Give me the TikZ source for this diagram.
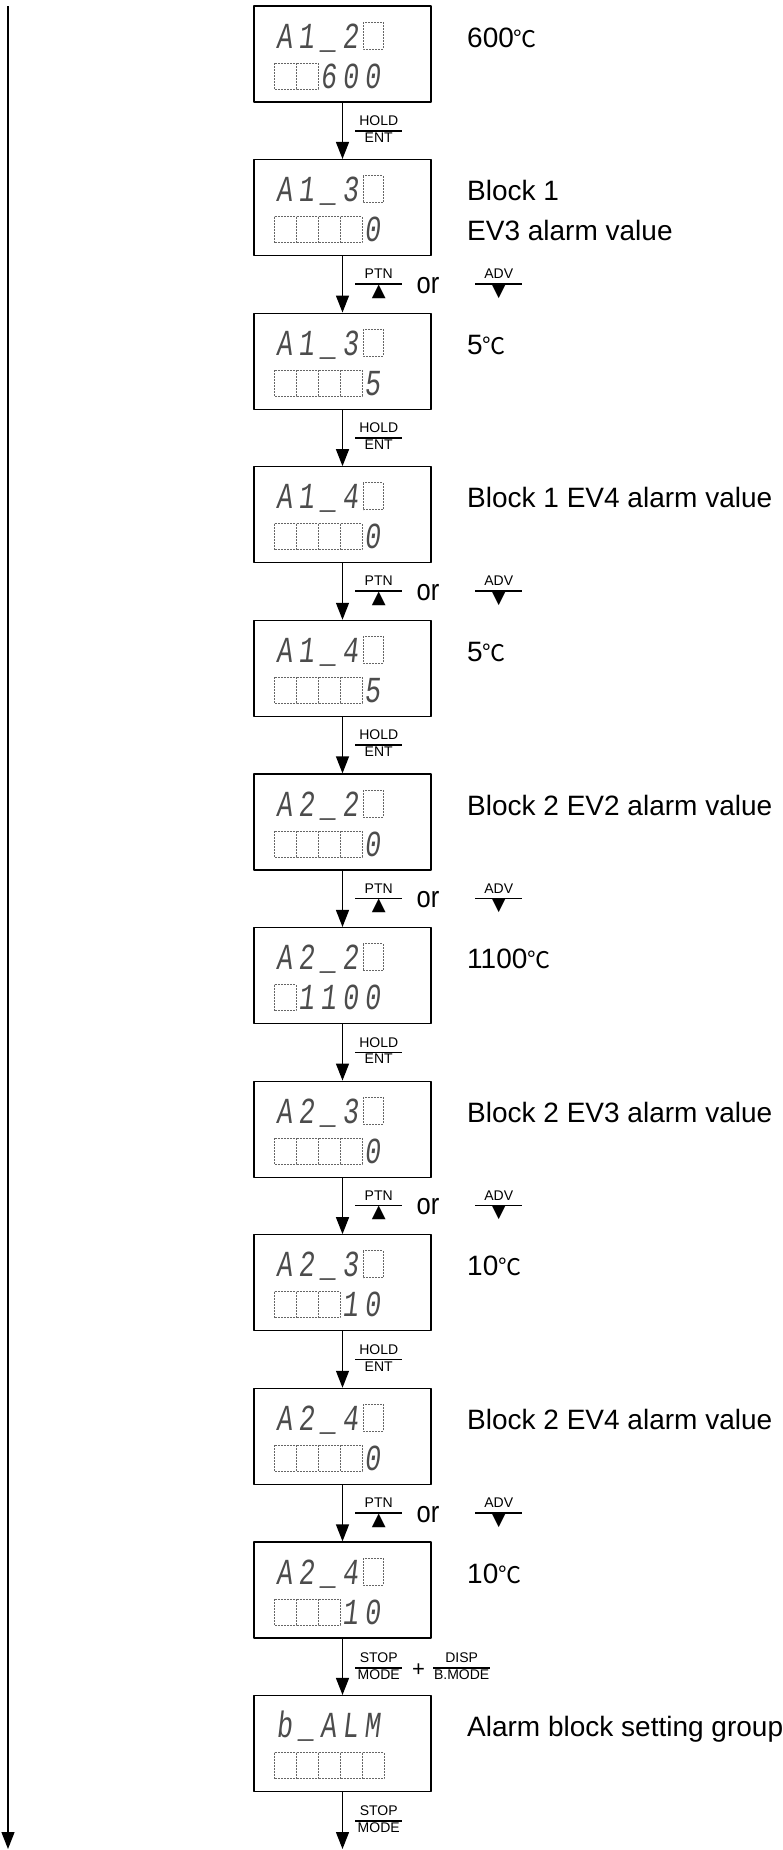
\documentclass[tikz,border=0pt]{standalone}
\usepackage{fontspec}
\usepackage{array}
\setmainfont{Liberation Sans}
\newfontfamily\segfont[FakeSlant=0.12,FakeStretch=0.72,LetterSpace=16.6]{Liberation Mono}
\newfontfamily\symfont{DejaVu Sans}
\newfontfamily\jpfont{Noto Sans CJK JP}
\usetikzlibrary{arrows.meta}
\newcommand{\degC}{{\jpfont\fontsize{23}{28}\selectfont ℃}}
\newcommand{\keyup}{{\symfont\fontsize{18}{17}\selectfont ▲}}
\newcommand{\keydown}{{\symfont\fontsize{18}{17}\selectfont ▼}}
\newcommand{\keyfrac}[3][47pt]{{\fontsize{14}{16}\selectfont\setlength{\arrayrulewidth}{1.5pt}%
  \renewcommand{\arraystretch}{0.95}%
  \begin{tabular}{@{}>{\centering\arraybackslash}p{#1}@{}}#2\\\hline #3\end{tabular}}}
\newcommand{\ortext}{\scalebox{0.85}[1]{\fontsize{30}{36}\selectfont or}}

\begin{document}
\begin{tikzpicture}[x=1pt,y=-1pt,line join=round,
  disp/.style={draw,line width=1.3pt,minimum width=177pt,minimum height=96pt,inner sep=0pt},
  flow/.style={line width=1.3pt,-{Triangle[length=17pt,width=13pt]}},
  cell/.style={draw=black!60,line width=0.8pt,dash pattern=on 2pt off 1pt},
  seg/.style={inner sep=0pt,anchor=base west,text=black!70,font=\segfont\fontsize{36.7}{40}\selectfont},
  lbl/.style={inner sep=0pt,anchor=base west,font=\fontsize{28}{34}\selectfont},
  key/.style={inner sep=0pt,anchor=west}]
\useasboundingbox (0,0) rectangle (782,1850);
% display boxes
\foreach \i/\top/\n/\val/\lab in {1/A1\_2/2/600/{600\degC},2/A1\_3/4/0/{Block 1},
    3/A1\_3/4/5/{5\degC},4/A1\_4/4/0/{Block 1 EV4 alarm value},5/A1\_4/4/5/{5\degC},
    6/A2\_2/4/0/{Block 2 EV2 alarm value},7/A2\_2/1/1100/{1100\degC},
    8/A2\_3/4/0/{Block 2 EV3 alarm value},9/A2\_3/3/10/{10\degC},
    10/A2\_4/4/0/{Block 2 EV4 alarm value},11/A2\_4/3/10/{10\degC}}{
  \pgfmathsetmacro\t{6+153.6*(\i-1)}
  \node[disp] (d\i) at (342.5,{\t+48}) {};
  \draw[cell] (363,{\t+16}) rectangle (383,{\t+43});
  \foreach \k in {1,...,\n}
    \draw[cell] ({274+22*(\k-1)},{\t+57}) rectangle ({296+22*(\k-1)},{\t+83});
  \node[seg] (top\i) at (276,{\t+42}) {\top};
  \node[seg] (val\i) at ({276+22*\n},{\t+82}) {\val};
  \node[lbl] (lab\i) at (467,{\t+41}) {\lab};
}
\node[lbl] (lab2b) at (467,{159.6+81}) {EV3 alarm value};
% last box
\node[disp] (d12) at (342.5,1743.6) {};
\foreach \k in {1,...,5}
  \draw[cell] ({274+22*(\k-1)},{1695.6+57}) rectangle ({296+22*(\k-1)},{1695.6+83});
\node[seg] (top12) at (276,{1695.6+42}) {b\_ALM};
\node[lbl] (lab12) at (467,{1695.6+41}) {Alarm block setting group};
% connectors
\foreach \i [evaluate=\i as \j using int(\i+1)] in {1,...,11}
  \draw[flow] (d\i) -- (d\j);
\coordinate (fin) at (342.5,1849);
\draw[flow] (d12) -- (fin);
\coordinate (lt) at (8,6);
\coordinate (lb) at (8,1849);
\draw[flow] (lt) -- (lb);
% key labels
\foreach \i in {1,3,5,7,9}
  \node[key] (hold\i) at (355,{6+153.6*(\i-1)+124.8}) {\keyfrac{HOLD}{ENT}};
\foreach \i in {2,4,6,8,10}{
  \node[key] (ptn\i) at (355,{6+153.6*(\i-1)+124.8}) {\keyfrac{PTN}{\keyup}};
  \node[inner sep=0pt] (or\i) at (428,{6+153.6*(\i-1)+125.8}) {\ortext};
  \node[key] (adv\i) at (475,{6+153.6*(\i-1)+124.8}) {\keyfrac{ADV}{\keydown}};
}
\node[key] (stop11) at (355,1668) {\keyfrac{STOP}{MODE}};
\node[inner sep=0pt,font=\fontsize{22}{26}\selectfont] (plus11) at (418.5,1670) {+};
\node[key] (disp11) at (433,1668) {\keyfrac[57pt]{DISP}{B.MODE}};
\node[key] (stop12) at (355,1821) {\keyfrac{STOP}{MODE}};
\end{tikzpicture}
\end{document}
